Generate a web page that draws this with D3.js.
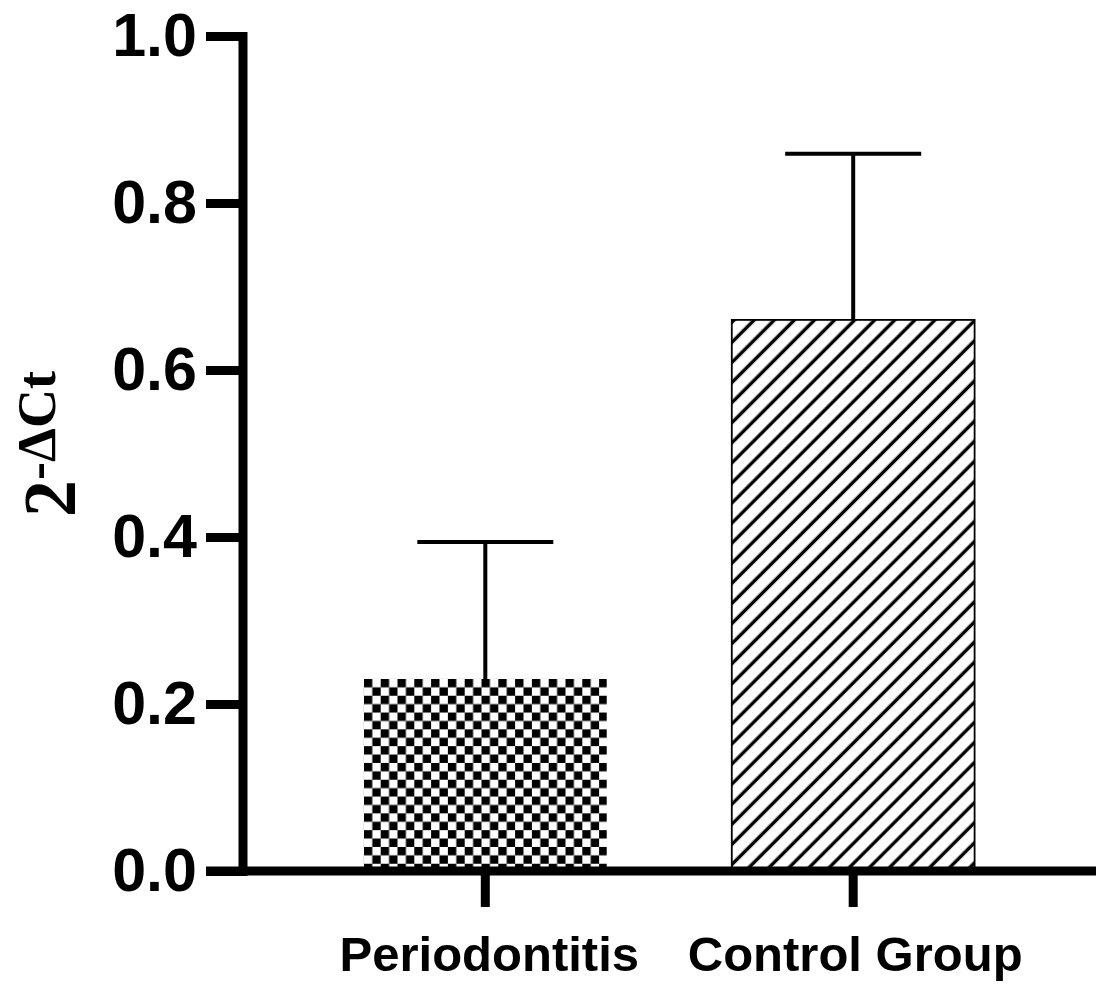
<!DOCTYPE html>
<html>
<head>
<meta charset="utf-8">
<script src="https://cdn.jsdelivr.net/npm/d3@7"></script>
<style>
  body { margin: 0; background: #fff; }
  svg { display: block; }
</style>
</head>
<body>
<div id="chart"></div>
<script>
// data
const groups = ['Periodontitis', 'Control Group'];
const means = [0.23, 0.66];
const errors = [0.164, 0.199];
const yTicks = [0.0, 0.2, 0.4, 0.6, 0.8, 1.0];

const W = 1096, H = 984;
const axisX = 242.5, axisY = 871;

const svg = d3.select('#chart').append('svg')
  .attr('width', W)
  .attr('height', H);

const defs = svg.append('defs');

const yScale = d3.scaleLinear().domain([0, 1]).range([axisY, 36]);
const xScale = d3.scaleBand().domain(groups)
  .range([axisX, W])
  .paddingInner(0.34)
  .paddingOuter(0.33);

// patterns
const sq = 8.4;
const checker = defs.append('pattern')
  .attr('id', 'checker')
  .attr('patternUnits', 'userSpaceOnUse')
  .attr('x', xScale(groups[0]))
  .attr('y', yScale(means[0]))
  .attr('width', sq * 2)
  .attr('height', sq * 2);
checker.append('rect').attr('width', sq * 2).attr('height', sq * 2).attr('fill', '#fff');
checker.append('rect').attr('x', 0).attr('y', 0).attr('width', sq).attr('height', sq).attr('fill', '#000');
checker.append('rect').attr('x', sq).attr('y', sq).attr('width', sq).attr('height', sq).attr('fill', '#000');

const hatch = defs.append('pattern')
  .attr('id', 'hatch')
  .attr('patternUnits', 'userSpaceOnUse')
  .attr('width', 14.2)
  .attr('height', 14.2)
  .attr('patternTransform', 'rotate(45)');
hatch.append('rect').attr('width', 14.2).attr('height', 14.2).attr('fill', '#fff');
hatch.append('line')
  .attr('x1', 7).attr('y1', 0).attr('x2', 7).attr('y2', 14.2)
  .attr('stroke', '#000').attr('stroke-width', 3.4);

const fills = ['url(#checker)', 'url(#hatch)'];
const strokes = ['none', '#000'];

// error bars (behind bars)
const capHalf = 68;
const err = svg.append('g').attr('class', 'errors');
groups.forEach((g, i) => {
  const cx = xScale(g) + xScale.bandwidth() / 2;
  err.append('line')
    .attr('x1', cx).attr('x2', cx)
    .attr('y1', yScale(means[i])).attr('y2', yScale(means[i] + errors[i]))
    .attr('stroke', '#000').attr('stroke-width', 4);
  err.append('line')
    .attr('x1', cx - capHalf).attr('x2', cx + capHalf)
    .attr('y1', yScale(means[i] + errors[i])).attr('y2', yScale(means[i] + errors[i]))
    .attr('stroke', '#000').attr('stroke-width', 4);
});

// bars
svg.append('g').attr('class', 'bars')
  .selectAll('rect')
  .data(groups)
  .join('rect')
  .attr('x', d => xScale(d))
  .attr('y', (d, i) => yScale(means[i]))
  .attr('width', xScale.bandwidth())
  .attr('height', (d, i) => axisY - yScale(means[i]))
  .attr('fill', (d, i) => fills[i])
  .attr('stroke', (d, i) => strokes[i])
  .attr('stroke-width', 1.8);

// y axis
const yAxis = svg.append('g')
  .attr('transform', `translate(${axisX},0)`)
  .call(d3.axisLeft(yScale).tickValues(yTicks).tickFormat(d3.format('.1f'))
    .tickSize(36.5).tickSizeOuter(0).tickPadding(9));
yAxis.select('.domain')
  .attr('stroke', '#000').attr('stroke-width', 9).attr('stroke-linecap', 'square');
yAxis.selectAll('.tick line').attr('stroke', '#000').attr('stroke-width', 9);
yAxis.selectAll('.tick text')
  .attr('fill', '#000')
  .style('font-family', '"Liberation Sans", Arial, sans-serif')
  .style('font-weight', 'bold')
  .style('font-size', '61px');

// x axis
svg.append('line')
  .attr('x1', axisX - 36.5).attr('x2', W)
  .attr('y1', axisY).attr('y2', axisY)
  .attr('stroke', '#000').attr('stroke-width', 9);

const xAxis = svg.append('g')
  .attr('transform', `translate(0,${axisY})`)
  .call(d3.axisBottom(xScale).tickSize(36).tickSizeOuter(0));
xAxis.select('.domain').remove();
xAxis.selectAll('.tick line').attr('stroke', '#000').attr('stroke-width', 9);
xAxis.selectAll('.tick text')
  .attr('fill', '#000')
  .attr('dy', null)
  .attr('y', 100)
  .attr('x', (d, i) => i === 0 ? 4 : 2)
  .style('font-family', '"Liberation Sans", Arial, sans-serif')
  .style('font-weight', 'bold')
  .style('font-size', '49px');

// y axis title: 2^-ΔCt
const yTitle = svg.append('text')
  .attr('transform', 'translate(75,444) rotate(-90)')
  .attr('text-anchor', 'middle')
  .style('font-family', '"Liberation Serif", "Times New Roman", serif')
  .style('font-weight', 'bold')
  .attr('fill', '#000');
yTitle.append('tspan').style('font-size', '74px').text('2');
yTitle.append('tspan').style('font-size', '54px').attr('dy', -20).text('-ΔCt');
</script>
</body>
</html>
